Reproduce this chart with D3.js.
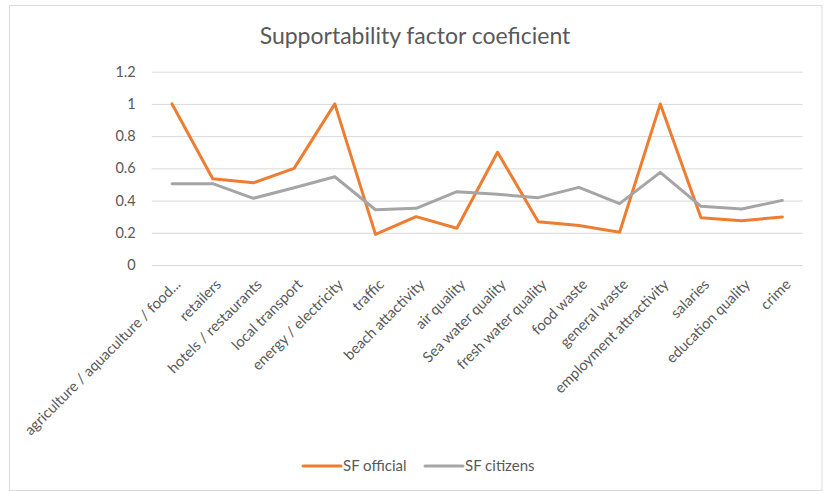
<!DOCTYPE html>
<html>
<head>
<meta charset="utf-8">
<script src="https://cdn.jsdelivr.net/npm/d3@7"></script>
<style>
  html, body { margin: 0; padding: 0; background: #fff; }
  svg { display: block; font-family: Lato, "Open Sans", sans-serif; }
</style>
</head>
<body>
<svg id="chart" width="824" height="491"></svg>
<script>
// Factors assessed
const categories = [
  "agriculture / aquaculture / food...",
  "retailers",
  "hotels / restaurants",
  "local transport",
  "energy / electricity",
  "traffic",
  "beach attactivity",
  "air quality",
  "Sea water quality",
  "fresh water quality",
  "food waste",
  "general waste",
  "employment attractivity",
  "salaries",
  "education quality",
  "crime"
];

// Supportability factor per group
const sfOfficial = [1.0, 0.535, 0.51, 0.60, 1.0, 0.19, 0.30, 0.228, 0.70, 0.269, 0.245, 0.203, 1.0, 0.294, 0.275, 0.298];
const sfCitizens = [0.505, 0.505, 0.414, 0.48, 0.548, 0.343, 0.352, 0.455, 0.439, 0.418, 0.482, 0.381, 0.575, 0.364, 0.348, 0.401];

const yTicks = [0, 0.2, 0.4, 0.6, 0.8, 1, 1.2];
const seriesNames = ["SF official", "SF citizens"];
const seriesColors = ["#ED7D31", "#A5A5A5"];

const svg = d3.select("#chart");
const plot = { left: 151.7, right: 802.7, top: 71.7, bottom: 265 };

// Chart frame
svg.append("rect")
  .attr("x", 9.5).attr("y", 5.5)
  .attr("width", 812.5).attr("height", 485)
  .attr("fill", "#fff")
  .attr("stroke", "#D9D9D9").attr("stroke-width", 1);

// Title
svg.append("text")
  .attr("x", 415).attr("y", 44)
  .attr("text-anchor", "middle")
  .attr("fill", "#595959")
  .attr("font-size", 23)
  .text("Supportability factor coeficient");

const x = d3.scaleBand().domain(categories).range([plot.left, plot.right]);
const y = d3.scaleLinear().domain([0, 1.2]).range([plot.bottom, plot.top]);
const cx = c => x(c) + x.bandwidth() / 2;

// Horizontal gridlines and y labels
const yAxis = d3.axisLeft(y)
  .tickValues(yTicks)
  .tickSize(-(plot.right - plot.left))
  .tickPadding(16)
  .tickFormat(d => d3.format("")(d));

const gy = svg.append("g")
  .attr("transform", `translate(${plot.left},0)`)
  .call(yAxis);
gy.select(".domain").remove();
gy.selectAll(".tick line").attr("stroke", "#D9D9D9").attr("stroke-width", 1);
gy.selectAll(".tick text")
  .attr("fill", "#595959")
  .attr("font-size", 14.5)
  .attr("font-family", "Lato, 'Open Sans', sans-serif");

// Category labels, slanted
const gx = svg.append("g");
gx.selectAll("text")
  .data(categories)
  .join("text")
  .attr("transform", d => `translate(${cx(d) + 2},${plot.bottom + 13}) rotate(-45)`)
  .attr("text-anchor", "end")
  .attr("dy", "0.71em")
  .attr("fill", "#595959")
  .attr("font-size", 14.7)
  .text(d => d);

// Series lines
const line = d3.line()
  .x((d, i) => cx(categories[i]))
  .y(d => y(d));

[sfOfficial, sfCitizens].forEach((vals, k) => {
  svg.append("path")
    .datum(vals)
    .attr("d", line)
    .attr("fill", "none")
    .attr("stroke", seriesColors[k])
    .attr("stroke-width", 3)
    .attr("stroke-linejoin", "round")
    .attr("stroke-linecap", "round");
});

// Legend
const legendX = [303, 425];
const legend = svg.append("g");
seriesNames.forEach((name, k) => {
  const g = legend.append("g").attr("transform", `translate(${legendX[k]},466)`);
  g.append("line")
    .attr("x1", 0).attr("x2", 38)
    .attr("stroke", seriesColors[k])
    .attr("stroke-width", 3)
    .attr("stroke-linecap", "round");
  g.append("text")
    .attr("x", 40).attr("dy", "0.35em")
    .attr("fill", "#595959")
    .attr("font-size", 15)
    .text(name);
});
</script>
</body>
</html>
